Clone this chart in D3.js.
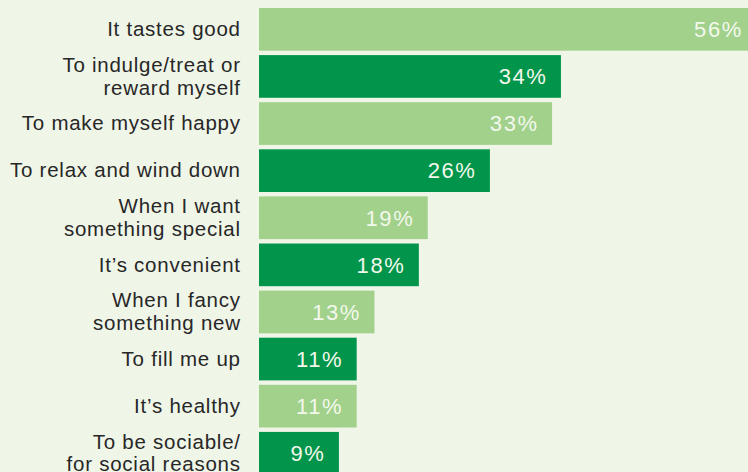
<!DOCTYPE html>
<html>
<head>
<meta charset="utf-8">
<script src="https://cdn.jsdelivr.net/npm/d3@7"></script>
<style>
  html, body { margin: 0; padding: 0; background: #eff5e7; overflow: hidden; }
  svg { display: block; }
</style>
</head>
<body>
<svg id="chart" width="748" height="472"></svg>
<script>
// Reasons for choosing, share of respondents (%)
const reasons = [
  ["It tastes good"],
  ["To indulge/treat or", "reward myself"],
  ["To make myself happy"],
  ["To relax and wind down"],
  ["When I want", "something special"],
  ["It\u2019s convenient"],
  ["When I fancy", "something new"],
  ["To fill me up"],
  ["It\u2019s healthy"],
  ["To be sociable/", "for social reasons"]
];
const shares = [56, 34, 33, 26, 19, 18, 13, 11, 11, 9];

const W = 748, H = 472;
const colors = { light: "#a1d18b", dark: "#00954a", label: "#272727", value: "#f3f8ec" };

const svg = d3.select("#chart");
svg.append("rect").attr("width", W).attr("height", H).attr("fill", "#eff5e7");

const idx = d3.range(shares.length);

const x = d3.scaleLinear().domain([0, 56]).range([259, 756.3]);
const y = d3.scaleBand().domain(idx).range([8, 474.6]).paddingInner(0.094).paddingOuter(0);

// bars, alternating light / dark green
svg.append("g").selectAll("rect")
  .data(idx)
  .join("rect")
  .attr("x", x(0))
  .attr("y", i => y(i))
  .attr("width", i => x(shares[i]) - x(0))
  .attr("height", y.bandwidth())
  .attr("fill", i => i % 2 === 0 ? colors.light : colors.dark);

// value labels inside bar ends
const valLS = 1.6;
svg.append("g").selectAll("text")
  .data(idx)
  .join("text")
  .attr("x", i => x(shares[i]) - 15 + valLS)
  .attr("y", i => y(i) + y.bandwidth() / 2 + 7.8)
  .attr("text-anchor", "end")
  .attr("font-family", "'Liberation Sans', Arial, sans-serif")
  .attr("font-size", 22)
  .attr("letter-spacing", valLS)
  .attr("fill", colors.value)
  .text(i => shares[i] + "%");

// category labels, right-aligned, one or two lines
const lineH = 22.7;
const catLS = 0.75;
const labels = svg.append("g").selectAll("text")
  .data(idx)
  .join("text")
  .attr("text-anchor", "end")
  .attr("font-family", "'Liberation Sans', Arial, sans-serif")
  .attr("font-size", 20.5)
  .attr("letter-spacing", catLS)
  .attr("fill", colors.label);

labels.each(function(i) {
  const lines = reasons[i];
  const cy = y(i) + y.bandwidth() / 2 + 6.8;
  const first = cy - (lines.length - 1) * lineH / 2;
  d3.select(this).selectAll("tspan")
    .data(lines)
    .join("tspan")
    .attr("x", 240 + catLS)
    .attr("y", (d, k) => first + k * lineH)
    .text(d => d);
});
</script>
</body>
</html>
